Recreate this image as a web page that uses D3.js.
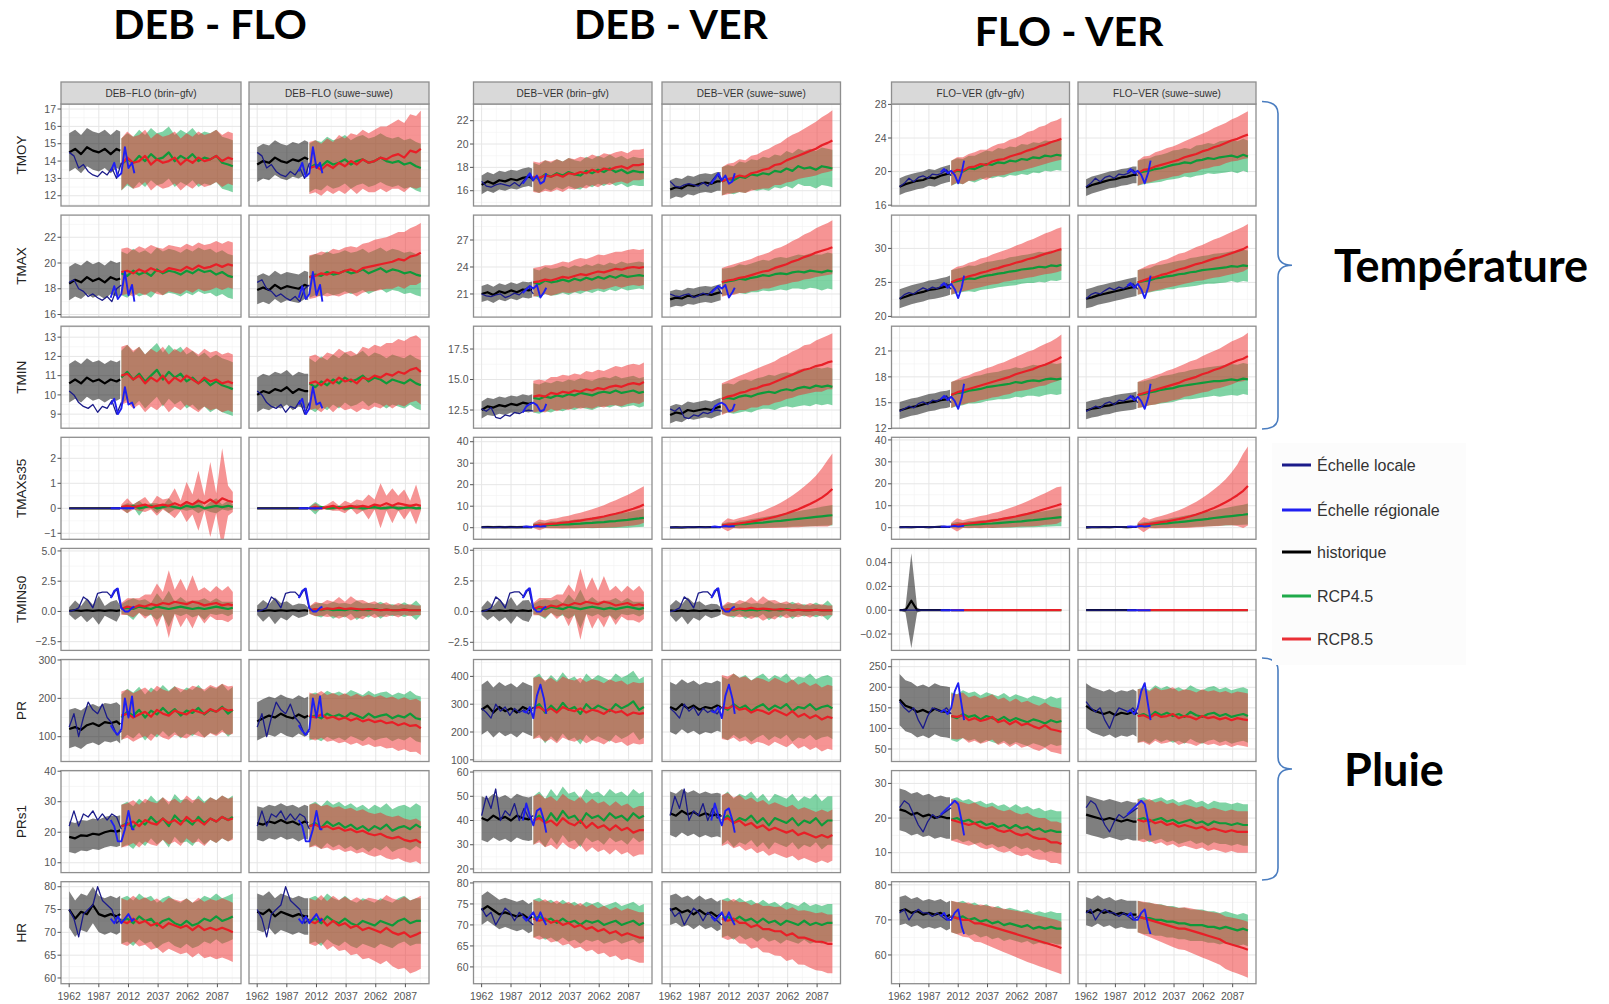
<!DOCTYPE html>
<html><head><meta charset="utf-8">
<script src="https://cdn.jsdelivr.net/npm/d3@7"></script>
<style>body{margin:0;background:#fff}svg{display:block}</style>
</head><body><svg id="chart" width="1609" height="1004"></svg>
<script>
// ---------------- DATA ----------------
const histYears = [1962,1967,1972,1977,1982,1987,1992,1997,2002,2005];
const rcpYears = [2006,2011,2016,2021,2026,2031,2036,2041,2046,2051,2056,2061,2066,2071,2076,2081,2086,2091,2096,2100];
const localYears = [1962,1966,1970,1974,1978,1982,1986,1990,1994,1998,2002,2006];
const regionalYears = [1997,2000,2003,2006,2009,2012,2015,2017];
const xTickYears = [1962,1987,2012,2037,2062,2087];
const variables = ["TMOY","TMAX","TMIN","TMAXs35","TMINs0","PR","PRs1","HR"];
const groupTitles = ["DEB - FLO","DEB - VER","FLO - VER"];
const panelTitles = ["DEB\u2212FLO (brin\u2212gfv)","DEB\u2212FLO (suwe\u2212suwe)","DEB\u2212VER (brin\u2212gfv)","DEB\u2212VER (suwe\u2212suwe)","FLO\u2212VER (gfv\u2212gfv)","FLO\u2212VER (suwe\u2212suwe)"];
const legendLabels = ["\u00c9chelle locale","\u00c9chelle r\u00e9gionale","historique","RCP4.5","RCP8.5"];
const sideLabels = ["Temp\u00e9rature","Pluie"];

// --- TMOY ---
const TMOY_domain = [[11.41,17.29],[14.69,23.43],[15.9,28.05]];
const TMOY_ticks = [[12,13,14,15,16,17],[16,18,20,22],[16,20,24,28]];
const TMOY_hist = [
 [14.5,14.7,14.4,14.8,14.6,14.5,14.7,14.4,14.7,14.6],
 [13.8,14.0,13.9,14.2,14.0,13.9,14.1,14.0,14.2,14.1],
 [16.5,16.8,16.6,16.9,16.8,17.0,16.9,17.1,17.2,17.1],
 [16.1,16.3,16.2,16.5,16.4,16.6,16.7,16.6,16.8,16.8],
 [18.2,18.5,18.7,18.9,19.0,19.3,19.2,19.5,19.7,19.8],
 [18.1,18.4,18.6,18.8,19.0,19.1,19.3,19.4,19.6,19.6]];
const TMOY_rcp45 = [
 [13.8,14.1,13.9,14.3,14.0,14.4,14.1,14.2,14.5,14.0,14.3,14.1,14.4,14.0,14.2,14.1,14.3,13.9,13.8,13.7],
 [13.6,13.8,13.7,14.0,13.8,13.9,14.1,13.8,14.0,14.1,13.9,14.0,14.2,14.0,13.9,14.0,13.8,13.9,13.7,13.6],
 [17.2,17.0,17.4,17.2,17.5,17.3,17.6,17.4,17.3,17.7,17.5,17.8,17.6,17.9,17.6,17.8,17.5,17.7,17.6,17.6],
 [16.8,17.0,16.9,17.2,17.1,17.4,17.3,17.5,17.4,17.7,17.6,17.9,17.7,18.1,17.9,18.0,17.8,18.1,18.0,17.9],
 [19.8,20.1,20.0,20.4,20.3,20.6,20.9,20.8,21.1,21.0,21.3,21.2,21.5,21.4,21.7,21.6,21.9,21.8,22.0,21.9],
 [19.8,20.0,20.1,20.3,20.4,20.6,20.8,20.9,21.1,21.0,21.3,21.4,21.6,21.5,21.7,21.8,21.9,21.7,22.0,21.8]];
const TMOY_rcp85 = [
 [13.8,14.2,13.9,14.0,14.3,13.8,14.1,13.9,14.0,14.2,13.8,14.1,13.9,14.2,14.0,14.1,14.3,14.0,14.2,14.1],
 [13.6,13.7,13.5,13.8,13.6,13.9,13.7,14.0,13.8,14.1,13.9,14.0,14.2,14.1,14.3,14.4,14.2,14.6,14.5,14.7],
 [17.2,17.1,17.3,17.2,17.4,17.2,17.5,17.4,17.6,17.5,17.8,17.6,17.9,17.8,18.0,18.1,17.9,18.2,18.2,18.3],
 [16.8,17.0,17.1,17.3,17.2,17.5,17.6,17.8,17.9,18.2,18.3,18.6,18.8,19.0,19.2,19.4,19.6,19.9,20.1,20.3],
 [19.8,20.2,20.1,20.5,20.6,20.9,20.8,21.2,21.4,21.5,21.8,22.0,22.2,22.5,22.7,23.0,23.2,23.5,23.7,23.9],
 [19.8,20.2,20.3,20.6,20.8,21.0,21.2,21.4,21.7,21.9,22.1,22.4,22.6,22.9,23.1,23.4,23.7,23.9,24.2,24.4]];
const TMOY_width = [
 [1.1,1.5,1.5],
 [1.0,1.4,[1.5,1.5,1.5,1.5,1.5,1.6,1.6,1.6,1.7,1.7,1.7,1.8,1.8,1.9,1.9,2.0,2.0,2.1,2.1,2.2]],
 [0.8,1.2,1.3],
 [0.8,[1.2,1.2,1.2,1.3,1.3,1.3,1.3,1.4,1.4,1.4,1.4,1.5,1.5,1.5,1.5,1.6,1.6,1.6,1.6,1.6],[1.2,1.3,1.3,1.4,1.4,1.5,1.5,1.6,1.7,1.7,1.8,1.9,2.0,2.0,2.1,2.2,2.3,2.4,2.5,2.6]],
 [1.0,[1.5,1.5,1.5,1.5,1.6,1.6,1.6,1.6,1.7,1.7,1.7,1.7,1.8,1.8,1.8,1.8,1.8,1.8,1.8,1.8],[1.5,1.5,1.6,1.6,1.7,1.7,1.8,1.8,1.9,1.9,2.0,2.0,2.1,2.2,2.2,2.3,2.3,2.4,2.4,2.5]],
 [1.0,[1.5,1.5,1.5,1.6,1.6,1.6,1.7,1.7,1.7,1.7,1.8,1.8,1.8,1.8,1.9,1.9,1.9,1.9,1.9,1.9],[1.5,1.6,1.6,1.7,1.7,1.8,1.8,1.9,1.9,2.0,2.1,2.1,2.2,2.3,2.4,2.4,2.5,2.6,2.7,2.8]]];
const TMOY_local = [
 [14.5,14.3,13.6,13.8,13.4,13.2,13.1,13.4,13.2,13.6,13.0,13.9],
 [16.8,16.4,16.3,16.5,16.6,16.5,16.4,16.7,16.4,16.9,17.4,16.8],
 [18.2,18.6,19.2,18.8,19.3,19.5,19.2,19.7,19.6,19.8,20.2,19.5]];
const TMOY_regional = [
 [13.4,13.9,13.1,13.3,14.8,13.6,13.9,13.3],
 [16.6,17.0,17.5,16.9,17.3,16.6,16.8,17.5],
 [19.9,20.3,19.8,20.1,19.6,18.6,19.9,21.3]];

// --- TMAX ---
const TMAX_domain = [[15.8,23.72],[18.43,29.77],[19.9,34.9]];
const TMAX_ticks = [[16,18,20,22],[21,24,27],[20,25,30]];
const TMAX_hist = [
 [18.4,18.7,18.5,18.9,18.6,18.8,18.5,18.9,18.7,18.8],
 [17.9,18.1,17.9,18.3,18.0,18.2,18.1,18.0,18.3,18.2],
 [21.0,21.2,20.9,21.3,21.1,21.4,21.2,21.5,21.4,21.5],
 [20.4,20.6,20.5,20.8,20.7,20.9,21.0,20.9,21.1,21.2],
 [22.6,22.9,23.2,23.4,23.6,23.9,24.0,24.2,24.4,24.6],
 [22.6,22.8,23.1,23.3,23.5,23.7,23.9,24.1,24.3,24.4]];
const TMAX_rcp45 = [
 [19.2,19.0,19.4,19.1,19.3,19.0,19.5,19.2,19.4,19.3,19.1,19.4,19.2,19.5,19.3,19.4,19.1,19.3,19.0,18.9],
 [18.9,19.1,19.0,19.3,19.1,19.2,19.4,19.2,19.3,19.5,19.2,19.4,19.6,19.3,19.5,19.4,19.2,19.3,19.1,19.0],
 [22.3,22.1,22.5,22.3,22.4,22.6,22.4,22.7,22.5,22.8,22.6,22.9,22.7,23.0,22.8,23.1,22.9,23.0,23.1,23.0],
 [22.3,22.4,22.5,22.7,22.6,22.8,22.9,23.1,23.0,23.2,23.3,23.2,23.4,23.5,23.4,23.6,23.5,23.4,23.6,23.5],
 [25.0,25.2,25.4,25.6,25.5,25.8,26.0,26.1,26.3,26.4,26.6,26.7,26.9,27.0,27.1,27.3,27.2,27.5,27.4,27.6],
 [25.0,25.2,25.3,25.6,25.7,25.9,26.0,26.2,26.3,26.5,26.6,26.8,26.9,27.0,27.1,27.2,27.4,27.3,27.5,27.4]];
const TMAX_rcp85 = [
 [19.3,19.4,19.2,19.5,19.3,19.6,19.4,19.3,19.6,19.5,19.4,19.7,19.5,19.8,19.6,19.7,19.9,19.7,19.9,19.8],
 [18.9,19.0,19.2,19.1,19.3,19.2,19.4,19.5,19.3,19.6,19.7,19.8,19.9,20.0,20.1,20.3,20.2,20.5,20.6,20.8],
 [22.3,22.4,22.6,22.5,22.7,22.9,22.8,23.0,23.2,23.1,23.3,23.5,23.4,23.6,23.8,23.7,23.9,24.0,23.9,24.0],
 [22.3,22.5,22.6,22.8,22.9,23.1,23.3,23.5,23.6,23.9,24.1,24.3,24.6,24.8,25.1,25.3,25.6,25.8,26.0,26.2],
 [25.0,25.4,25.6,25.9,26.1,26.4,26.6,26.9,27.1,27.4,27.6,27.9,28.1,28.4,28.6,28.9,29.2,29.4,29.7,29.9],
 [25.0,25.3,25.6,25.8,26.1,26.3,26.6,26.9,27.1,27.4,27.7,27.9,28.2,28.5,28.7,29.0,29.3,29.6,29.9,30.3]];
const TMAX_width = [
 [1.3,1.7,1.8],
 [1.1,1.6,[1.7,1.7,1.7,1.7,1.8,1.8,1.8,1.8,1.9,1.9,1.9,2.0,2.0,2.0,2.1,2.1,2.2,2.2,2.3,2.3]],
 [0.9,1.5,[1.6,1.6,1.6,1.7,1.7,1.7,1.7,1.8,1.8,1.8,1.8,1.9,1.9,1.9,1.9,2.0,2.0,2.0,2.0,2.0]],
 [0.9,[1.5,1.5,1.5,1.6,1.6,1.6,1.7,1.7,1.7,1.8,1.8,1.8,1.8,1.9,1.9,1.9,1.9,2.0,2.0,2.0],[1.6,1.6,1.7,1.7,1.8,1.8,1.9,1.9,2.0,2.1,2.1,2.2,2.3,2.4,2.5,2.6,2.7,2.8,2.9,3.0]],
 [1.4,[1.8,1.8,1.8,1.9,1.9,1.9,2.0,2.0,2.0,2.0,2.1,2.1,2.1,2.1,2.2,2.2,2.2,2.2,2.2,2.2],[1.8,1.9,1.9,2.0,2.0,2.1,2.1,2.2,2.3,2.3,2.4,2.5,2.6,2.7,2.8,2.9,3.0,3.1,3.2,3.2]],
 [1.4,[1.8,1.8,1.8,1.9,1.9,1.9,2.0,2.0,2.0,2.1,2.1,2.1,2.1,2.2,2.2,2.2,2.2,2.3,2.3,2.3],[1.8,1.9,2.0,2.0,2.1,2.1,2.2,2.3,2.3,2.4,2.5,2.6,2.7,2.8,2.9,3.0,3.1,3.2,3.3,3.3]]];
const TMAX_local = [
 [18.5,18.7,18.0,17.8,17.4,17.6,17.3,17.1,17.4,17.0,18.0,18.3],
 [21.0,20.8,20.7,20.9,21.0,20.6,20.8,21.1,20.9,21.4,21.8,21.0],
 [22.6,23.2,23.5,23.3,23.8,24.2,23.9,24.3,24.1,24.5,24.8,24.0]];
const TMAX_regional = [
 [17.3,18.2,17.2,17.6,19.3,17.5,18.3,17.0],
 [21.1,21.5,21.9,21.6,22.0,20.6,21.2,21.7],
 [24.5,24.9,24.2,24.8,24.0,22.7,24.3,26.0]];

// --- TMIN ---
const TMIN_domain = [[8.27,13.57],[11.01,19.37],[12.05,23.87]];
const TMIN_ticks = [[9,10,11,12,13],[12.5,15,17.5],[12,15,18,21]];
const TMIN_hist = [
 [10.6,10.8,10.6,10.9,10.7,10.8,10.6,10.8,10.7,10.8],
 [10.0,10.2,10.1,10.3,10.2,10.4,10.1,10.3,10.2,10.2],
 [12.5,12.8,12.7,12.9,12.8,13.0,12.9,13.1,13.0,13.1],
 [12.1,12.3,12.2,12.5,12.4,12.5,12.6,12.5,12.7,12.8],
 [14.1,14.3,14.5,14.6,14.8,15.0,15.1,15.3,15.4,15.5],
 [14.1,14.3,14.4,14.6,14.7,14.9,15.0,15.1,15.2,15.3]];
const TMIN_rcp45 = [
 [10.9,11.2,10.8,11.1,10.7,11.0,11.3,10.8,11.2,10.9,11.1,10.7,10.9,10.6,10.8,10.5,10.7,10.5,10.4,10.3],
 [10.6,10.4,10.7,10.5,10.8,10.6,10.9,10.7,10.8,11.0,10.7,10.9,10.8,10.6,10.8,10.7,10.6,10.8,10.6,10.5],
 [13.5,13.4,13.6,13.5,13.7,13.6,13.8,13.7,13.9,13.8,13.7,13.9,14.0,13.9,14.1,13.9,14.0,14.1,13.9,14.0],
 [13.4,13.5,13.4,13.6,13.7,13.6,13.8,13.9,14.0,13.9,14.1,14.2,14.1,14.3,14.4,14.3,14.5,14.4,14.5,14.4],
 [15.9,16.1,16.2,16.4,16.5,16.6,16.8,16.9,17.0,17.1,17.2,17.4,17.3,17.5,17.6,17.5,17.7,17.8,17.7,17.8],
 [15.9,16.0,16.2,16.3,16.5,16.6,16.7,16.9,17.0,17.1,17.2,17.3,17.4,17.5,17.5,17.6,17.7,17.6,17.8,17.7]];
const TMIN_rcp85 = [
 [11.0,11.1,10.8,11.0,10.6,10.9,10.7,11.0,10.6,10.9,10.7,11.0,10.8,10.6,10.9,10.7,10.8,10.6,10.7,10.6],
 [10.6,10.7,10.5,10.8,10.6,10.9,10.7,10.8,10.6,10.9,10.8,11.0,10.9,11.1,11.0,11.2,11.1,11.3,11.4,11.2],
 [13.6,13.7,13.6,13.9,13.8,14.0,13.9,14.1,14.0,14.2,14.1,14.3,14.2,14.4,14.5,14.4,14.6,14.7,14.6,14.8],
 [13.4,13.6,13.7,13.9,14.0,14.2,14.3,14.5,14.6,14.8,15.0,15.2,15.4,15.6,15.8,15.9,16.1,16.2,16.4,16.5],
 [15.9,16.2,16.4,16.6,16.8,17.0,17.2,17.4,17.6,17.8,18.0,18.3,18.5,18.7,18.9,19.2,19.4,19.7,20.0,20.3],
 [15.9,16.1,16.3,16.5,16.7,16.9,17.1,17.3,17.6,17.8,18.0,18.3,18.5,18.8,19.0,19.3,19.6,19.9,20.1,20.4]];
const TMIN_width = [
 [1.0,1.4,1.5],
 [0.9,1.3,[1.4,1.4,1.4,1.4,1.5,1.5,1.5,1.5,1.5,1.6,1.6,1.6,1.6,1.6,1.7,1.7,1.7,1.7,1.7,1.7]],
 [0.7,1.2,[1.3,1.3,1.3,1.3,1.4,1.4,1.4,1.4,1.4,1.5,1.5,1.5,1.5,1.5,1.6,1.6,1.6,1.6,1.6,1.6]],
 [0.7,[1.2,1.2,1.2,1.3,1.3,1.3,1.3,1.3,1.4,1.4,1.4,1.4,1.4,1.5,1.5,1.5,1.5,1.5,1.5,1.5],[1.3,1.3,1.4,1.4,1.5,1.5,1.6,1.6,1.7,1.7,1.8,1.8,1.9,1.9,2.0,2.0,2.1,2.2,2.2,2.3]],
 [1.0,[1.5,1.5,1.5,1.5,1.6,1.6,1.6,1.6,1.6,1.7,1.7,1.7,1.7,1.7,1.8,1.8,1.8,1.8,1.8,1.8],[1.5,1.5,1.6,1.6,1.7,1.7,1.8,1.8,1.9,1.9,2.0,2.0,2.1,2.2,2.2,2.3,2.4,2.4,2.5,2.6]],
 [1.0,[1.5,1.5,1.5,1.5,1.6,1.6,1.6,1.6,1.6,1.7,1.7,1.7,1.7,1.7,1.8,1.8,1.8,1.8,1.8,1.8],[1.5,1.6,1.6,1.7,1.7,1.8,1.8,1.9,1.9,2.0,2.0,2.1,2.2,2.2,2.3,2.4,2.5,2.5,2.6,2.7]]];
const TMIN_local = [
 [10.2,10.0,9.6,9.4,9.3,9.5,9.1,9.4,9.3,9.7,9.0,9.6],
 [12.6,12.4,12.7,11.9,11.8,12.1,12.0,12.3,12.2,12.4,12.5,12.4],
 [14.0,14.3,14.6,14.4,14.9,15.1,14.8,15.3,15.2,15.5,15.8,15.0]];
const TMIN_regional = [
 [9.5,9.8,9.0,9.3,10.4,9.5,9.6,9.3],
 [12.3,12.8,13.0,13.1,12.9,12.4,12.5,13.0],
 [15.4,15.8,15.3,15.7,15.2,14.3,15.6,17.2]];

// --- TMAXs35 ---
const TMAXs35_domain = [[-1.24,2.84],[-5.4,42.05],[-5.3,41.2]];
const TMAXs35_ticks = [[-1,0,1,2],[0,10,20,30,40],[0,10,20,30,40]];
const TMAXs35_hist = [
 [0,0,0,0,0,0,0,0,0,0],
 [0,0,0,0,0,0,0,0,0,0],
 [0.2,0.3,0.2,0.3,0.2,0.3,0.2,0.3,0.3,0.3],
 [0.1,0.2,0.1,0.2,0.2,0.3,0.2,0.3,0.3,0.3],
 [0.2,0.3,0.2,0.3,0.3,0.2,0.3,0.4,0.3,0.3],
 [0.1,0.2,0.2,0.3,0.2,0.3,0.3,0.2,0.3,0.3]];
const TMAXs35_rcp45 = [
 [0.05,0,0.1,0,0.05,0.1,0,0.05,0.1,0.05,0,0.1,0.05,0.1,0,0.05,0.1,0.05,0.1,0.05],
 [0.02,0,0.05,0,0.02,0.05,0,0.02,0.05,0,0.02,0.05,0,0.02,0.05,0,0.02,0.05,0,0.02],
 [1.0,1.2,1.1,1.4,1.3,1.6,1.5,1.8,1.9,2.1,2.2,2.5,2.6,2.9,3.1,3.4,3.6,4.0,4.3,4.6],
 [1.0,1.2,1.3,1.6,1.7,2.0,2.2,2.4,2.7,3.0,3.2,3.5,3.8,4.1,4.4,4.7,5.0,5.3,5.6,5.8],
 [1.0,1.1,1.2,1.4,1.5,1.6,1.8,1.9,2.1,2.3,2.5,2.7,2.9,3.2,3.4,3.7,4.0,4.3,4.6,4.8],
 [1.0,1.2,1.4,1.6,1.8,2.0,2.3,2.5,2.8,3.1,3.4,3.7,4.0,4.4,4.7,5.0,5.3,5.6,5.9,6.2]];
const TMAXs35_rcp85 = [
 [0.05,0.1,0.05,0.1,0.15,0.05,0.1,0.15,0.1,0.2,0.1,0.25,0.15,0.3,0.2,0.35,0.2,0.4,0.3,0.25],
 [0,0.05,0,0.05,0.1,0,0.05,0.1,0.05,0.1,0.05,0.15,0.1,0.2,0.1,0.2,0.15,0.1,0.15,0.1],
 [1.0,1.3,1.5,1.8,2.0,2.3,2.6,3.0,3.3,3.8,4.2,4.7,5.2,5.9,6.5,7.2,8.0,8.8,9.8,10.8],
 [1.0,1.4,1.7,2.0,2.4,2.8,3.3,3.8,4.4,5.0,5.8,6.6,7.6,8.6,9.8,11.0,12.4,14.0,16.0,18.0],
 [1.0,1.3,1.6,1.9,2.2,2.5,2.8,3.2,3.6,4.1,4.6,5.1,5.7,6.3,7.0,7.7,8.5,9.3,10.1,10.8],
 [1.0,1.4,1.7,2.1,2.5,2.9,3.4,3.9,4.5,5.2,6.0,6.9,7.9,9.0,10.2,11.6,13.1,14.8,16.8,19.0]];
const TMAXs35_width = [
 [0.02,[0.05,0.2,0.05,0.3,0.05,0.1,0.2,0.05,0.3,0.1,0.05,0.2,0.1,0.3,0.05,0.2,0.3,0.1,0.2,0.1],[0.1,0.3,0.1,0.2,0.3,0.1,0.4,0.2,0.3,0.6,0.2,0.8,0.4,1.2,0.3,1.5,0.4,2.0,0.6,0.4]],
 [0.02,[0.05,0.25,0.05,0.05,0.1,0.05,0.1,0.05,0.1,0.1,0.05,0.1,0.05,0.1,0.05,0.1,0.05,0.1,0.05,0.1],[0.05,0.15,0.05,0.1,0.2,0.1,0.25,0.1,0.3,0.2,0.5,0.2,0.9,0.3,0.7,0.3,0.6,0.2,0.8,0.2]],
 [0.6,[1.0,1.5,1.2,1.6,1.5,1.8,1.7,2.0,2.1,2.3,2.5,2.6,2.8,3.0,3.2,3.4,3.6,3.8,4.0,4.2],[1.2,2.5,1.8,2.2,2.4,2.8,3.0,3.4,3.6,4.0,4.4,4.8,5.2,5.8,6.3,6.8,7.2,7.8,8.3,8.5]],
 [0.5,[1.0,1.3,1.4,1.7,1.8,2.0,2.2,2.4,2.6,2.8,3.0,3.2,3.4,3.6,3.8,4.0,4.2,4.4,4.6,4.8],[1.2,3.0,2.0,2.5,2.8,3.2,3.6,4.0,4.6,5.2,5.8,6.6,7.4,8.4,9.4,10.5,11.8,13.5,15.5,16.5]],
 [0.5,[1.0,1.5,1.2,1.6,1.5,1.8,1.7,2.0,2.1,2.3,2.5,2.6,2.8,3.0,3.2,3.4,3.6,3.8,4.0,4.2],[1.2,3.0,1.8,2.2,2.4,2.8,3.0,3.4,3.6,4.0,4.4,4.8,5.2,5.8,6.3,6.8,7.2,7.8,8.3,8.0]],
 [0.5,[1.0,1.3,1.4,1.7,1.8,2.0,2.2,2.4,2.6,2.8,3.0,3.2,3.4,3.6,3.8,4.0,4.2,4.4,4.6,4.8],[1.2,3.5,2.0,2.5,2.8,3.2,3.6,4.0,4.6,5.2,5.8,6.6,7.4,8.4,9.4,10.5,12.0,14.0,17.0,18.0]]];
const TMAXs35_local = [
 [0,0,0,0,0,0,0,0,0,0,0,0],
 [0.2,0.3,0.1,0.3,0.2,0.4,0.2,0.3,0.2,0.4,0.3,0.5],
 [0.2,0.3,0.2,0.3,0.3,0.4,0.2,0.4,0.3,0.4,0.5,0.4]];
const TMAXs35_regional = [
 [0,0,0,0,0,0,0,0],
 [0.4,0.6,0.3,0.5,0.8,0.5,0.7,0.6],
 [0.5,0.6,0.4,0.6,0.8,0.5,0.7,0.9]];

// --- TMINs0 ---
const TMINs0_domain = [[-3.22,5.21],[-3.16,5.15],[-0.0338,0.052]];
const TMINs0_ticks = [[-2.5,0,2.5,5],[-2.5,0,2.5,5],[-0.02,0,0.02,0.04]];
const TMINs0_hist = [
 [0.05,0.1,0.05,0.1,0.05,0.1,0.05,0.1,0.05,0.1],
 [0.1,0.05,0.1,0.05,0.1,0.05,0.1,0.05,0.1,0.05],
 [0.05,0.1,0.05,0.1,0.05,0.1,0.05,0.1,0.05,0.1],
 [0.1,0.05,0.1,0.05,0.1,0.05,0.1,0.05,0.1,0.05],
 [0,0,0.008,0,0,0,0,0,0,0],
 [0,0,0,0,0,0,0,0,0,0]];
const TMINs0_rcp45 = [
 [0.2,0.3,0.2,0.4,0.3,0.2,0.4,0.3,0.2,0.3,0.4,0.3,0.2,0.3,0.2,0.3,0.4,0.3,0.2,0.3],
 [0.1,0.15,0.1,0.2,0.1,0.15,0.1,0.2,0.1,0.15,0.1,0.2,0.1,0.15,0.1,0.1,0.15,0.1,0.1,0.1],
 [0.2,0.3,0.2,0.4,0.3,0.2,0.4,0.3,0.2,0.3,0.4,0.3,0.2,0.3,0.2,0.3,0.4,0.3,0.2,0.3],
 [0.1,0.15,0.1,0.2,0.1,0.15,0.1,0.2,0.1,0.15,0.1,0.2,0.1,0.15,0.1,0.1,0.15,0.1,0.1,0.1],
 [0,0,0,0,0,0,0,0,0,0,0,0,0,0,0,0,0,0,0,0],
 [0,0,0,0,0,0,0,0,0,0,0,0,0,0,0,0,0,0,0,0]];
const TMINs0_rcp85 = [
 [0.2,0.4,0.3,0.5,0.4,0.6,0.5,0.7,0.6,0.8,0.7,0.6,0.8,0.7,0.5,0.6,0.7,0.5,0.6,0.5],
 [0.1,0.2,0.15,0.25,0.2,0.3,0.2,0.25,0.2,0.15,0.2,0.15,0.1,0.15,0.1,0.1,0.15,0.1,0.1,0.1],
 [0.2,0.4,0.3,0.5,0.4,0.6,0.5,0.7,0.6,0.8,0.7,0.6,0.8,0.7,0.5,0.6,0.7,0.5,0.6,0.5],
 [0.1,0.2,0.15,0.25,0.2,0.3,0.2,0.25,0.2,0.15,0.2,0.15,0.1,0.15,0.1,0.1,0.15,0.1,0.1,0.1],
 [0,0,0,0,0,0,0,0,0,0,0,0,0,0,0,0,0,0,0,0],
 [0,0,0,0,0,0,0,0,0,0,0,0,0,0,0,0,0,0,0,0]];
const TMINs0_width = [
 [[0.3,0.8,0.4,1.0,0.5,1.2,0.4,0.7,0.9,0.4],[0.4,0.6,0.9,0.5,0.7,0.5,1.1,0.6,1.5,0.5,0.8,0.5,0.7,0.6,0.9,0.5,0.7,0.5,0.6,0.5],[0.5,0.7,0.8,0.6,1.0,0.8,1.8,0.9,2.8,1.0,2.0,1.1,2.2,1.0,1.5,1.0,1.4,1.2,1.5,1.1]],
 [[0.4,0.9,0.5,1.1,0.6,0.8,0.4,0.6,0.5,0.3],[0.3,0.5,0.6,0.4,0.7,0.5,0.6,0.4,0.8,0.5,0.6,0.4,0.7,0.4,0.5,0.4,0.6,0.4,0.8,0.4],[0.3,0.6,0.5,0.7,0.6,0.9,0.6,1.0,0.7,0.8,0.5,0.7,0.5,0.6,0.4,0.6,0.4,0.5,0.4,0.4]],
 [[0.3,0.8,0.4,0.9,0.5,1.1,0.4,0.8,0.9,0.4],[0.4,0.6,0.8,0.5,0.7,0.5,1.0,0.6,1.6,0.5,0.8,0.5,0.7,0.6,0.9,0.5,0.7,0.5,0.6,0.5],[0.5,0.7,0.8,0.6,1.0,0.8,1.7,0.9,2.9,1.0,2.1,1.1,2.1,1.0,1.6,1.0,1.4,1.2,1.5,1.1]],
 [[0.4,0.9,0.5,1.1,0.6,0.8,0.4,0.6,0.5,0.3],[0.3,0.5,0.6,0.4,0.7,0.5,0.6,0.4,0.8,0.5,0.6,0.4,0.7,0.4,0.5,0.4,0.6,0.4,0.8,0.4],[0.3,0.6,0.5,0.7,0.6,0.9,0.6,1.0,0.7,0.8,0.5,0.7,0.5,0.6,0.4,0.6,0.4,0.5,0.4,0.4]],
 [[0,0.002,0.04,0.002,0,0,0,0,0,0],0,0],
 [0,0,0]];
const TMINs0_local = [
 [0.0,0.1,0.3,1.2,0.9,0.3,1.5,1.6,1.6,1.2,1.9,0.2],
 [0.0,0.1,0.3,1.2,0.9,0.3,1.5,1.6,1.6,1.2,1.9,0.2],
 [0,0,0,0,0,0,0,0,0,0,0,0]];
const TMINs0_regional = [
 [1.1,1.7,1.9,0.3,0.0,0.0,0.3,0.4],
 [1.1,1.7,1.9,0.3,0.0,0.0,0.3,0.4],
 [0,0,0,0,0,0,0,0]];

// --- PR ---
const PR_domain = [[35.3,301.3],[94,460.7],[19.6,267.5]];
const PR_ticks = [[100,200,300],[100,200,300,400],[50,100,150,200,250]];
const PR_hist = [
 [120,125,118,130,135,128,138,135,140,132],
 [140,148,155,150,160,152,148,158,150,155],
 [280,295,270,290,275,285,270,290,280,275],
 [290,280,300,285,295,280,290,285,295,290],
 [170,155,150,140,145,138,148,142,140,138],
 [155,145,140,135,140,132,138,135,140,135]];
const PR_rcp45 = [
 [150,165,155,170,150,168,158,175,160,172,155,168,162,175,158,170,165,178,160,170],
 [150,155,148,160,152,158,150,162,155,148,160,150,155,158,148,155,150,160,148,145],
 [285,300,270,295,275,305,280,290,265,300,280,295,285,275,300,285,295,310,280,290],
 [290,280,300,285,295,275,290,300,280,295,285,300,275,290,285,300,280,290,295,285],
 [130,125,135,128,132,122,130,125,120,128,118,125,120,115,122,118,112,120,115,118],
 [130,135,128,140,132,138,130,135,128,140,132,128,135,138,130,135,128,132,135,130]];
const PR_rcp85 = [
 [155,160,150,158,165,152,170,160,155,168,162,158,170,165,160,172,165,175,168,170],
 [155,150,158,148,152,145,150,142,148,140,145,138,142,135,138,130,135,128,130,122],
 [285,290,275,285,270,290,280,275,285,270,280,275,265,280,270,275,260,270,265,268],
 [290,285,295,280,285,270,280,275,265,280,270,260,275,255,265,250,260,245,255,250],
 [130,128,132,120,125,118,122,128,115,120,110,118,108,112,105,100,108,98,95,92],
 [130,132,125,135,128,130,135,125,130,128,122,130,125,128,122,126,120,125,122,120]];
const PR_width = [
 [50,60,63],
 [50,60,[60,60,61,61,62,62,63,63,64,64,65,65,66,66,67,67,68,68,69,70]],
 [90,110,110],
 [90,110,115],
 [62,58,55],
 [55,65,65]];
const PR_local = [
 [125,160,100,150,190,170,160,185,150,135,105,115],
 [285,270,250,300,275,290,260,285,270,280,265,290],
 [165,150,140,150,120,100,130,150,145,140,150,135]];
const PR_regional = [
 [130,115,105,120,200,150,205,150],
 [275,270,290,250,330,370,320,265],
 [140,145,135,150,190,210,155,120]];

// --- PRs1 ---
const PRs1_domain = [[6.77,40.2],[18.5,60.6],[4.26,33.7]];
const PRs1_ticks = [[10,20,30,40],[20,30,40,50,60],[10,20,30]];
const PRs1_hist = [
 [18.5,18.0,19.0,18.8,19.5,19.2,20.0,20.5,20.2,20.6],
 [23.0,22.5,23.5,23.0,24.0,23.0,23.5,22.5,23.5,23.0],
 [41,40,42,40.5,41.5,40,42,41,40.5,41],
 [43,42,44,42.5,43.5,42,43,42,42.5,42],
 [22.5,22,21,21.5,20.5,21,20,20.5,20,20],
 [21,20.5,20,19.5,20,19.5,19,19.5,19,19]];
const PRs1_rcp45 = [
 [22,23,21.5,24,22.5,25,23,24.5,22,25.5,23.5,24,22.5,25,23,24.5,23.5,25,24,25],
 [22,23,21.5,23.5,22,23,21.5,22.5,21,22,20.5,22,21,22.5,20.5,21.5,22,21,22.5,21.5],
 [40,42,39,43,40,44,41,42,39,43,41,42,40,43,41,42,40,43,41,42],
 [40,42,39,41,40,42,39,41,38,41,40,39,41,38,40,39,41,38,40,40],
 [19.5,20,19,19.5,18.5,19,18,18.5,17.5,18,17,18,17,17.5,16.5,17,16,16.5,16,16],
 [19.5,20,19,19.5,20,19,19.5,18.5,19,19.5,18.5,19,18,19,18.5,18.5,18,18.5,18,18]];
const PRs1_rcp85 = [
 [22,22.5,23.5,22,24,23,22.5,24.5,23,24,22.5,25,23.5,24,22.5,24.5,23.5,25,24,24.5],
 [22,22.5,21.5,22,21,21.5,20.5,21,20,20.5,19.5,19,19.5,18.5,18,18.5,17.5,17,17.5,16.5],
 [40,41,39,40,38,41,39,38,40,37,39,37,38,36,38,36,37,35,36,36],
 [40,41,39,40,38,39,37,38,36,37,36,35,36,34,35,34,33,34,33,34],
 [19.5,19,18.5,18,18.5,17.5,17,17.5,16.5,16,16.5,15.5,15,15.5,14.5,14,14,13,13,12.5],
 [19.5,19,19.5,18.5,19,18,18.5,17.5,18,17.5,17,17.5,16.5,17,16.5,16,16.5,16,16,16]];
const PRs1_width = [
 [5,7,7],
 [5.5,7,7],
 [9,10,10],
 [9,10,10.5],
 [6,6,6],
 [5.5,6,6]];
const PRs1_local = [
 [22,27,22,26,25,27,24,26,24,26,25,21],
 [42,50,45,53,40,44,42,47,40,45,41,42],
 [23,25,24,21,18,16,19,21,20,21,22,23]];
const PRs1_regional = [
 [24,22,17,17,21,27,21,21],
 [40,47,42,38,44,45,40,35],
 [21,22,23,24,25,24,19,15]];

// --- HR ---
const HR_domain = [[58.75,81.1],[56,80.3],[51.8,80.9]];
const HR_ticks = [[60,65,70,75,80],[60,65,70,75,80],[60,70,80]];
const HR_hist = [
 [75,73,74.5,74,76,74,73.5,74,73.5,74],
 [74.5,74,75,73.5,74.5,74,73.5,74,73.5,73.5],
 [73.5,74.5,73.5,72.5,73,72.5,72,72.5,71.5,72],
 [73.5,74,73,73.5,72.5,73.5,72.5,73,72,72.5],
 [72.5,73,72,72.5,71.5,72,71.5,72,71,71.5],
 [72.5,72,73,72,72.5,71.5,72,71.5,71.5,71.5]];
const HR_rcp45 = [
 [72.5,73,72,73.5,72.5,73,71.5,72.5,73,72,71.5,72.5,71.5,72,73,72.5,73.5,72.5,73,73.5],
 [72.5,73,72,73.5,72.5,72,73,72,71.5,72.5,72,71.5,72.5,72,71.5,72.5,73,72,72.5,72.5],
 [71.5,72,71,71.5,70.5,71.5,70.5,71,70,71,70.5,71,70,70.5,71,70,70.5,71,70,70.5],
 [71.5,72,71,72,71,71.5,70.5,71.5,70.5,71,70,71,70.5,70,71,70,70.5,70,70.5,70.5],
 [71,70.5,71,70,70.5,69.5,70,69,69.5,68.5,69,68.5,68,68.5,67.5,68,67.5,68,67.5,67.5],
 [71,70.5,70.5,70,70,69.5,69.5,69,69,68.5,68.5,68.5,68,68,67.5,68,67.5,67,67.5,67]];
const HR_rcp85 = [
 [72.5,72,73,72,72.5,71.5,72,71,72,71.5,71,71.5,70.5,71.5,70.5,71,70.5,71,70.5,70],
 [72.5,72,73,71.5,72.5,71.5,72,71,71.5,70.5,71,70.5,70,71,70,69.5,70,69,69.5,70],
 [71.5,71,71.5,70.5,71,70,70.5,69.5,70,69,69.5,68.5,69,68,68.5,67.5,68,67.5,67,67],
 [71.5,71,71.5,70.5,70.5,69.5,70,69,69,68.5,68.5,67.5,68,67,67,66.5,66,66,65.5,65.5],
 [71,70.5,70,70,69,69,68.5,68,67.5,67,66.5,66,65.5,65,64.5,64,63.5,63,62.5,62],
 [71,70.5,70,69.5,69,68.5,68,67.5,67.5,67,66.5,66,65.5,65,64.5,63.5,63,62.5,62,61.5]];
const HR_width = [
 [4,5,[5,5,5,5.1,5.2,5.3,5.4,5.5,5.6,5.7,5.8,5.9,6,6.1,6.2,6.3,6.4,6.5,6.5,6.5]],
 [4,5,[5,5,5.2,5.3,5.5,5.6,5.8,6,6.2,6.4,6.6,6.8,7,7.2,7.4,7.6,7.8,8,8,8]],
 [3.5,4.5,[4.5,4.5,4.6,4.7,4.8,4.9,5,5.1,5.2,5.3,5.4,5.5,5.6,5.7,5.8,5.9,6,6,6,6]],
 [3.5,4.5,[4.5,4.6,4.7,4.9,5,5.2,5.3,5.5,5.6,5.8,5.9,6.1,6.2,6.4,6.5,6.7,6.8,7,7,7]],
 [4,4.5,[4.5,4.6,4.8,5,5.2,5.4,5.6,5.8,6,6.2,6.4,6.6,6.8,7,7.1,7.2,7.3,7.4,7.5,7.5]],
 [4,4.5,[4.5,4.7,4.9,5.1,5.3,5.5,5.7,5.9,6.1,6.3,6.5,6.7,6.9,7.1,7.3,7.5,7.7,7.8,7.9,8]]];
const HR_local = [
 [75,73,69,74,75,76,80,77,76,75,72,73],
 [74,72,73,70,72,74,73,71,73,72,71,70],
 [72,73,70,72,73,72,72,71,72,71,70,71]];
const HR_regional = [
 [73,72,73.5,72,73,74,72.5,73],
 [72,71,72,73,71,73,71,70],
 [71,72,70,70,72,73,68,66]];

const tickFormats = [["d","d","d"],["d","d","d"],["d",".1f","d"],["d","d","d"],[".1f",".1f",".2f"],["d","d","d"],["d","d","d"],["d","d","d"]];

// ---------------- BUILD TABLE ----------------
const DOMAINS = [TMOY_domain,TMAX_domain,TMIN_domain,TMAXs35_domain,TMINs0_domain,PR_domain,PRs1_domain,HR_domain];
const TICKS = [TMOY_ticks,TMAX_ticks,TMIN_ticks,TMAXs35_ticks,TMINs0_ticks,PR_ticks,PRs1_ticks,HR_ticks];
const HIST = [TMOY_hist,TMAX_hist,TMIN_hist,TMAXs35_hist,TMINs0_hist,PR_hist,PRs1_hist,HR_hist];
const R45 = [TMOY_rcp45,TMAX_rcp45,TMIN_rcp45,TMAXs35_rcp45,TMINs0_rcp45,PR_rcp45,PRs1_rcp45,HR_rcp45];
const R85 = [TMOY_rcp85,TMAX_rcp85,TMIN_rcp85,TMAXs35_rcp85,TMINs0_rcp85,PR_rcp85,PRs1_rcp85,HR_rcp85];
const WIDTHS = [TMOY_width,TMAX_width,TMIN_width,TMAXs35_width,TMINs0_width,PR_width,PRs1_width,HR_width];
const LOCAL = [TMOY_local,TMAX_local,TMIN_local,TMAXs35_local,TMINs0_local,PR_local,PRs1_local,HR_local];
const REGIONAL = [TMOY_regional,TMAX_regional,TMIN_regional,TMAXs35_regional,TMINs0_regional,PR_regional,PRs1_regional,HR_regional];

// ---------------- LAYOUT / STYLE ----------------
const panelX = [61,249,473.5,662,891.5,1078];
const panelW = [180,180,178.5,178.5,178,178];
const rowTop0 = 104, rowPitch = 111.1, rowH = 102, stripH = 22;
const COL = {hist:"#000000", r45:"#0e9a3a", r85:"#e81f27", local:"#1b1b8a", regional:"#1f1ff2"};
const BAND = {hist:["#000000",0.5], r45:["#00a84a",0.5], r85:["#ee2a2a",0.5]};
const tickFont = "Liberation Sans, Arial, sans-serif";
const titleFont = "Lato, 'Open Sans', sans-serif";

const svg = d3.select("#chart");
svg.append("rect").attr("width",1609).attr("height",1004).attr("fill","#fff");
const defs = svg.append("defs");

const wAt = (w,i) => Array.isArray(w) ? w[i] : w;

variables.forEach((vname, r) => {
  const top = rowTop0 + r*rowPitch;
  const bottom = top + rowH;
  for (let p = 0; p < 6; p++) {
    const g = Math.floor(p/2);
    const x0 = panelX[p], pw = panelW[p];
    const x = d3.scaleLinear().domain([1962-6.9, 2100+6.9]).range([x0, x0+pw]);
    const y = d3.scaleLinear().domain(DOMAINS[r][g]).range([bottom, top]);
    const ticks = TICKS[r][g];
    const fmt = d3.format(tickFormats[r][g]);
    const pg = svg.append("g");
    pg.append("rect").attr("x",x0).attr("y",top).attr("width",pw).attr("height",rowH).attr("fill","#fff");
    const yMinor = [];
    const step = ticks[1]-ticks[0];
    for (let k = -1; k < ticks.length; k++) {
      const v = (k < 0 ? ticks[0] - step/2 : ticks[k] + step/2);
      const dm = DOMAINS[r][g];
      if (v > dm[0] && v < dm[1]) yMinor.push(v);
    }
    const xMinor = [1949.5,1974.5,1999.5,2024.5,2049.5,2074.5,2099.5];
    pg.selectAll(null).data(yMinor).join("line")
      .attr("x1",x0).attr("x2",x0+pw).attr("y1",d=>y(d)).attr("y2",d=>y(d))
      .attr("stroke","#f2f2f2").attr("stroke-width",0.6);
    pg.selectAll(null).data(xMinor.filter(v=>x(v)>x0 && x(v)<x0+pw)).join("line")
      .attr("y1",top).attr("y2",bottom).attr("x1",d=>x(d)).attr("x2",d=>x(d))
      .attr("stroke","#f2f2f2").attr("stroke-width",0.6);
    pg.selectAll(null).data(ticks).join("line")
      .attr("x1",x0).attr("x2",x0+pw).attr("y1",d=>y(d)).attr("y2",d=>y(d))
      .attr("stroke","#e6e6e6").attr("stroke-width",1);
    pg.selectAll(null).data(xTickYears).join("line")
      .attr("y1",top).attr("y2",bottom).attr("x1",d=>x(d)).attr("x2",d=>x(d))
      .attr("stroke","#e6e6e6").attr("stroke-width",1);

    const cid = `clip-${r}-${p}`;
    defs.append("clipPath").attr("id",cid).append("rect").attr("x",x0).attr("y",top).attr("width",pw).attr("height",rowH);
    const dg = pg.append("g").attr("clip-path",`url(#${cid})`);

    const hist = HIST[r][p], r45 = R45[r][p], r85 = R85[r][p], wd = WIDTHS[r][p];
    const band = (yrs, vals, w) => d3.area()
      .x((d,i)=>x(yrs[i])).y0((d,i)=>y(d - wAt(w,i))).y1((d,i)=>y(d + wAt(w,i)))(vals);
    const line = (yrs) => d3.line().x((d,i)=>x(yrs[i])).y(d=>y(d));

    dg.append("path").attr("d",band(histYears,hist,wd[0])).attr("fill",BAND.hist[0]).attr("fill-opacity",BAND.hist[1]);
    dg.append("path").attr("d",band(rcpYears,r45,wd[1])).attr("fill",BAND.r45[0]).attr("fill-opacity",BAND.r45[1]);
    dg.append("path").attr("d",band(rcpYears,r85,wd[2])).attr("fill",BAND.r85[0]).attr("fill-opacity",BAND.r85[1]);

    dg.append("path").attr("d",line(histYears)(hist)).attr("fill","none").attr("stroke",COL.hist).attr("stroke-width",2.2).attr("stroke-linejoin","round");
    dg.append("path").attr("d",line(rcpYears)(r45)).attr("fill","none").attr("stroke",COL.r45).attr("stroke-width",2.2).attr("stroke-linejoin","round");
    dg.append("path").attr("d",line(rcpYears)(r85)).attr("fill","none").attr("stroke",COL.r85).attr("stroke-width",2.2).attr("stroke-linejoin","round");
    dg.append("path").attr("d",line(localYears)(LOCAL[r][g])).attr("fill","none").attr("stroke",COL.local).attr("stroke-width",1.3).attr("stroke-linejoin","round");
    dg.append("path").attr("d",line(regionalYears)(REGIONAL[r][g])).attr("fill","none").attr("stroke",COL.regional).attr("stroke-width",1.9).attr("stroke-linejoin","round");

    pg.append("rect").attr("x",x0).attr("y",top).attr("width",pw).attr("height",rowH)
      .attr("fill","none").attr("stroke","#8e8e8e").attr("stroke-width",1.3);

    if (p % 2 === 0) {
      pg.selectAll(null).data(ticks).join("line")
        .attr("x1",x0-3.5).attr("x2",x0).attr("y1",d=>y(d)).attr("y2",d=>y(d))
        .attr("stroke","#555").attr("stroke-width",1);
      pg.selectAll(null).data(ticks).join("text")
        .attr("x",x0-5).attr("y",d=>y(d)).attr("dy","0.35em")
        .attr("text-anchor","end").attr("font-family",tickFont).attr("font-size",10.5)
        .attr("fill","#555").text(d=>fmt(d));
    }
    if (r === variables.length-1) {
      pg.selectAll(null).data(xTickYears).join("line")
        .attr("x1",d=>x(d)).attr("x2",d=>x(d)).attr("y1",bottom).attr("y2",bottom+3.5)
        .attr("stroke","#555").attr("stroke-width",1);
      pg.selectAll(null).data(xTickYears).join("text")
        .attr("x",d=>x(d)).attr("y",bottom+16.5).attr("text-anchor","middle")
        .attr("font-family",tickFont).attr("font-size",10.5).attr("fill","#555").text(d=>d);
    }
    if (r === 0) {
      pg.append("rect").attr("x",x0).attr("y",top-stripH).attr("width",pw).attr("height",stripH)
        .attr("fill","#d9d9d9").attr("stroke","#8e8e8e").attr("stroke-width",1.3);
      pg.append("text").attr("x",x0+pw/2).attr("y",top-stripH/2).attr("dy","0.35em")
        .attr("text-anchor","middle").attr("font-family",tickFont).attr("font-size",10)
        .attr("fill","#333").text(panelTitles[p]);
    }
  }
  svg.append("text").attr("transform",`translate(21,${top+rowH/2}) rotate(-90)`)
    .attr("dy","0.35em").attr("text-anchor","middle").attr("font-family",tickFont)
    .attr("font-size",13.5).attr("fill","#222").text(vname);
});

// group titles
const titleX = [210,671,1069], titleY = [39,39,46];
svg.selectAll(null).data(groupTitles).join("text")
  .attr("x",(d,i)=>titleX[i]).attr("y",(d,i)=>titleY[i]).attr("text-anchor","middle")
  .attr("font-family",titleFont).attr("font-weight",700)
  .attr("font-size",41).attr("fill","#000").text(d=>d);

// side labels
svg.append("text").attr("x",1461).attr("y",282).attr("text-anchor","middle")
  .attr("font-family",titleFont).attr("font-weight",700)
  .attr("font-size",45).attr("fill","#000").text(sideLabels[0]);
svg.append("text").attr("x",1394).attr("y",786).attr("text-anchor","middle")
  .attr("font-family",titleFont).attr("font-weight",700)
  .attr("font-size",45).attr("fill","#000").text(sideLabels[1]);

// braces
function brace(x0, xv, xm, y0, y1) {
  const ym = (y0+y1)/2, c = 12;
  return `M${x0},${y0} Q${xv},${y0} ${xv},${y0+c} L${xv},${ym-c} Q${xv},${ym} ${xm},${ym} Q${xv},${ym} ${xv},${ym+c} L${xv},${y1-c} Q${xv},${y1} ${x0},${y1}`;
}
svg.append("path").attr("d",brace(1262,1278,1292,101.5,429)).attr("fill","none").attr("stroke","#4a7dc0").attr("stroke-width",1.6);
svg.append("path").attr("d",brace(1262,1278,1292,658,880)).attr("fill","none").attr("stroke","#4a7dc0").attr("stroke-width",1.6);

// legend
const legColors = [COL.local, COL.regional, COL.hist, "#1faa4a", "#ea2f35"];
const legY = [465,510,552,596,639];
svg.append("rect").attr("x",1272).attr("y",443).attr("width",194).attr("height",222).attr("fill","#fcfcfc");
const lg = svg.append("g");
lg.selectAll(null).data(legendLabels).join("line")
  .attr("x1",1282).attr("x2",1311).attr("y1",(d,i)=>legY[i]).attr("y2",(d,i)=>legY[i])
  .attr("stroke",(d,i)=>legColors[i]).attr("stroke-width",3);
lg.selectAll(null).data(legendLabels).join("text")
  .attr("x",1317).attr("y",(d,i)=>legY[i]).attr("dy","0.35em")
  .attr("font-family",tickFont).attr("font-size",16).attr("fill","#333").text(d=>d);
</script></body></html>
